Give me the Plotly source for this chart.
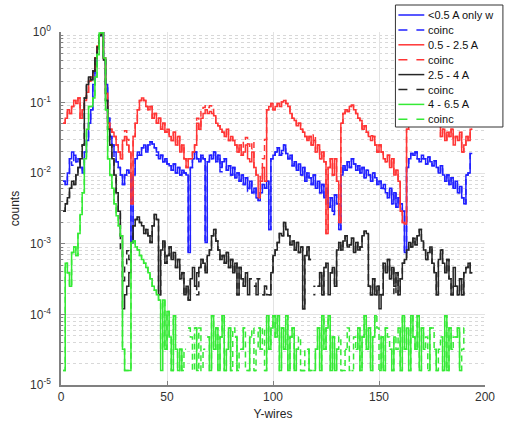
import plotly.graph_objects as go

# ---------------- data ----------------
wires = list(range(1, 195))

blue_lt05 = [
    0.0077, 0.0069, 0.0101, 0.016, 0.02, 0.018, 0.0145, 0.016, 0.012, 0.0101,
    0.02, 0.029, 0.051, 0.079, 0.18, 0.33, 0.58, 0.895, 1.0, 0.43,
    0.18, 0.06, 0.033, 0.025, 0.02, 0.0145, 0.012, 0.0094, 0.0069, 0.0094,
    0.011, 0.0101, 0.00104, 0.0094, 0.016, 0.02, 0.018, 0.023, 0.025, 0.02,
    0.025, 0.028, 0.026, 0.023, 0.02, 0.016, 0.018, 0.0145, 0.016, 0.0135,
    0.0127, 0.011, 0.0135, 0.0101, 0.012, 0.0094, 0.011, 0.0101, 0.0094, 0.00075,
    0.012, 0.016, 0.02, 0.016, 0.0145, 0.018, 0.016, 0.00104, 0.0145, 0.018,
    0.016, 0.02, 0.0145, 0.018, 0.012, 0.0145, 0.016, 0.011, 0.0127, 0.0094,
    0.012, 0.0086, 0.0101, 0.0077, 0.0094, 0.0069, 0.0086, 0.0061, 0.0077, 0.0053,
    0.0061, 0.0045, 0.0041, 0.0053, 0.0069, 0.0061, 0.0077, 0.0016, 0.016, 0.018,
    0.02, 0.023, 0.018, 0.021, 0.025, 0.019, 0.016, 0.018, 0.0127, 0.0145,
    0.011, 0.0135, 0.0094, 0.012, 0.0077, 0.0101, 0.0086, 0.0069, 0.0094, 0.0061,
    0.0077, 0.0053, 0.0069, 0.0045, 0.0061, 0.0033, 0.0045, 0.0029, 0.0049, 0.0037,
    0.0016, 0.0094, 0.0127, 0.011, 0.0145, 0.012, 0.016, 0.0135, 0.011, 0.0127,
    0.0101, 0.012, 0.0086, 0.011, 0.0094, 0.0077, 0.0101, 0.0086, 0.0069, 0.0077,
    0.0061, 0.0069, 0.0053, 0.0045, 0.0061, 0.0037, 0.0053, 0.0033, 0.0045, 0.0037,
    0.0029, 0.00075, 0.012, 0.016, 0.019, 0.018, 0.02, 0.016, 0.0145, 0.018,
    0.016, 0.0135, 0.017, 0.0145, 0.0127, 0.015, 0.012, 0.0101, 0.0127, 0.0094,
    0.0077, 0.0094, 0.0069, 0.0086, 0.0061, 0.0077, 0.0053, 0.0065, 0.0045, 0.0037,
    0.0094, 0.0101, 0.019, 0.019,
]
blue_coinc_diff = {3: 0.0095, 5: 0.013, 25: 0.016, 36: 0.018, 45: 0.018, 75: 0.0105,
                   88: 0.0055, 104: 0.019, 128: 0.0026, 152: 0.006, 170: 0.016}

red_05_25 = [
    0.051, 0.06, 0.079, 0.07, 0.088, 0.107, 0.097, 0.116, 0.06, 0.079,
    0.107, 0.14, 0.2, 0.23, 0.28, 0.43, 0.63, 0.9, 1.0, 0.43,
    0.135, 0.051, 0.042, 0.038, 0.033, 0.025, 0.02, 0.016, 0.029, 0.033,
    0.025, 0.02, 0.0037, 0.033, 0.051, 0.079, 0.107, 0.116, 0.107, 0.088,
    0.079, 0.088, 0.06, 0.07, 0.051, 0.06, 0.042, 0.051, 0.038, 0.042,
    0.033, 0.029, 0.038, 0.025, 0.033, 0.02, 0.025, 0.016, 0.012, 0.016,
    0.016, 0.02, 0.025, 0.051, 0.042, 0.06, 0.07, 0.079, 0.07, 0.075,
    0.07, 0.065, 0.051, 0.047, 0.042, 0.038, 0.033, 0.042, 0.029, 0.033,
    0.029, 0.025, 0.02, 0.025, 0.018, 0.02, 0.025, 0.016, 0.0145, 0.02,
    0.012, 0.0094, 0.0045, 0.0077, 0.012, 0.0077, 0.079, 0.088, 0.097, 0.079,
    0.088, 0.097, 0.088, 0.102, 0.107, 0.097, 0.088, 0.07, 0.06, 0.056,
    0.047, 0.051, 0.042, 0.038, 0.033, 0.029, 0.033, 0.025, 0.029, 0.02,
    0.025, 0.016, 0.02, 0.0145, 0.0014, 0.012, 0.016, 0.0094, 0.016, 0.0077,
    0.002, 0.051, 0.07, 0.079, 0.075, 0.088, 0.092, 0.079, 0.07, 0.06,
    0.056, 0.042, 0.047, 0.038, 0.033, 0.029, 0.033, 0.025, 0.02, 0.025,
    0.02, 0.016, 0.0145, 0.018, 0.012, 0.016, 0.0094, 0.011, 0.0077, 0.0029,
    0.002, 0.0019, 0.042, 0.06, 0.07, 0.079, 0.088, 0.075, 0.079, 0.07,
    0.065, 0.07, 0.06, 0.079, 0.07, 0.06, 0.056, 0.051, 0.033, 0.042,
    0.029, 0.038, 0.033, 0.042, 0.025, 0.033, 0.029, 0.038, 0.02, 0.025,
    0.033, 0.029, 0.042, 0.042,
]
red_coinc_diff = {30: 0.04, 31: 0.03, 64: 0.06, 66: 0.075, 67: 0.085, 68: 0.09, 69: 0.085,
                  70: 0.09, 71: 0.08, 86: 0.028, 87: 0.032, 88: 0.026, 89: 0.022, 90: 0.028,
                  93: 0.009, 95: 0.016, 96: 0.03, 119: 0.035, 146: 0.034, 185: 0.03}

black_25_4 = [
    0.0029, 0.0037, 0.0045, 0.0061, 0.0077, 0.0069, 0.0094, 0.012, 0.016, 0.025,
    0.116, 0.18, 0.23, 0.21, 0.28, 0.43, 0.61, 0.895, 1.0, 0.4,
    0.107, 0.042, 0.025, 0.016, 0.0094, 0.0053, 0.0029, 0.0013, 0.00012, 0.00019,
    0.00025, 0.00039, 0.00104, 0.0018, 0.0022, 0.0024, 0.002, 0.0018, 0.0014, 0.0016,
    0.0013, 0.00104, 0.0018, 0.0026, 0.0022, 0.00019, 0.00082, 0.0011, 0.00053, 0.00068,
    0.0009, 0.0006, 0.00075, 0.00046, 0.0006, 0.00032, 0.00039, 0.00019, 0.00025, 0.00016,
    0.00032, 0.00046, 0.00025, 0.00039, 0.00046, 0.0006, 0.00053, 0.00039, 0.00068, 0.00082,
    0.0013, 0.0016, 0.0011, 0.00082, 0.0006, 0.00068, 0.00053, 0.00075, 0.00046, 0.0006,
    0.00039, 0.00053, 0.00019, 0.00046, 0.00032, 0.00025, 0.00039, 0.00019, 0.00032, 0,
    0.00025, 0.00019, 0.00032, 0, 0.00019, 0.00025, 0, 0.00019, 0.00039, 0.00068,
    0.00082, 0.00104, 0.0014, 0.0013, 0.002, 0.0016, 0.0013, 0.00097, 0.0011, 0.00082,
    0.00104, 0.00075, 0.0009, 0.00012, 0.00068, 0.0009, 0.0006, 0, 0.00019, 0,
    0.00025, 0.00039, 0.00019, 0.00046, 0.00053, 0.00019, 0.00039, 0.00046, 0.00025, 0.00082,
    0.00104, 0.00082, 0.0011, 0.0013, 0.0009, 0.00097, 0.0012, 0.00075, 0.00104, 0.00082,
    0.0009, 0.0013, 0.0015, 0.0014, 0.00025, 0.00019, 0.00032, 0.00019, 0.00025, 0.00012,
    0.00019, 0.00053, 0.00039, 0.0006, 0.00032, 0.00046, 0.00025, 0.00039, 0.00019, 0.00032,
    0.00053, 0.0006, 0.00082, 0.00104, 0.0009, 0.0012, 0.00097, 0.0013, 0.0016, 0.0011,
    0.00082, 0.0006, 0.00075, 0.0009, 0.00053, 0.00039, 0.00019, 0.0006, 0.00082, 0.00053,
    0.00039, 0.0006, 0.00032, 0.00019, 0.00046, 0.00025, 0.00019, 0.00032, 0.00019, 0.00039,
    0.00046, 0.00053, 0.00039, 0.00039,
]
black_coinc_diff = {28: 0.0008, 29: 0.0003, 30: 0.0005, 31: 0.0008, 32: 0.0006, 62: 0,
                    64: 0.00019, 88: 0, 92: 0.00032, 97: 0.00019, 119: 0.00025, 126: 0,
                    150: 0.00019, 157: 0.00019, 185: 0.00025}

green_4_65 = [
    1.6e-5, 5.3e-4, 3.9e-4, 2.5e-4, 7.5e-4, 9e-4, 6.8e-4, 1.4e-3, 2.6e-3, 5.3e-3,
    0.016, 0.042, 0.088, 0.088, 0.116, 0.23, 0.48, 0.97, 1.0, 0.43,
    0.079, 0.016, 0.0094, 0.0061, 0.0037, 0.0025, 0.0018, 0.0013, 3.2e-5, 1.6e-5,
    1.6e-5, 1.6e-5, 1.04e-3, 1.1e-3, 9e-4, 8.2e-4, 6.8e-4, 6e-4, 5.3e-4, 4.6e-4,
    3.9e-4, 3.2e-4, 2.5e-4, 2.2e-4, 1.9e-4, 1.6e-4, 1.6e-5, 1.6e-4, 3.2e-5, 1.1e-4,
    4.8e-5, 1.6e-5, 9.6e-5, 3.2e-5, 1.6e-5, 3.2e-5, 1.6e-5, 0, 0, 6.4e-5,
    0, 0, 6.4e-5, 1.6e-5, 0, 0, 3.2e-5, 0, 4.8e-5, 1.6e-5,
    9.6e-5, 3.2e-5, 6.4e-5, 1.6e-5, 4.8e-5, 9.6e-5, 1.6e-5, 3.2e-5, 6.4e-5, 1.6e-5,
    0, 4.8e-5, 1.6e-5, 0, 3.2e-5, 6.4e-5, 0, 1.6e-5, 4.8e-5, 0,
    1.6e-5, 0, 6.4e-5, 3.2e-5, 0, 1.6e-5, 9.6e-5, 3.2e-5, 6.4e-5, 9.6e-5,
    4.8e-5, 9.6e-5, 1.6e-5, 6.4e-5, 3.2e-5, 9.6e-5, 1.6e-5, 4.8e-5, 6.4e-5, 1.6e-5,
    3.2e-5, 0, 1.6e-5, 1.6e-5, 0, 3.2e-5, 1.6e-5, 0, 1.6e-5, 3.2e-5,
    6.4e-5, 1.6e-5, 9.6e-5, 3.2e-5, 6.4e-5, 9.6e-5, 1.6e-5, 4.8e-5, 1.6e-5, 3.2e-5,
    0, 1.6e-5, 0, 3.2e-5, 0, 0, 1.6e-5, 0, 3.2e-5, 6.4e-5,
    1.6e-5, 4.8e-5, 9.6e-5, 3.2e-5, 6.4e-5, 1.6e-5, 4.8e-5, 9.6e-5, 0, 1.6e-5,
    4.8e-5, 1.6e-5, 6.4e-5, 0, 3.2e-5, 1.6e-5, 4.8e-5, 0, 6.4e-5, 1.6e-5,
    9.6e-5, 3.2e-5, 6.4e-5, 1.6e-5, 9.6e-5, 4.8e-5, 3.2e-5, 9.6e-5, 1.6e-5, 6.4e-5,
    3.2e-5, 0, 1.6e-5, 6.4e-5, 0, 3.2e-5, 1.6e-5, 0, 4.8e-5, 1.6e-5,
    9.6e-5, 1.6e-5, 6.4e-5, 3.2e-5, 0, 4.8e-5, 6.4e-5, 1.6e-5, 0, 0,
    0, 0, 0, 0,
]
green_coinc_diff = {47: 3.2e-5, 58: 3.2e-5, 61: 4.8e-5, 62: 1.6e-5, 65: 6.4e-5, 66: 1.6e-5,
                    81: 6.4e-5, 84: 3.2e-5, 87: 1.6e-5, 90: 6.4e-5, 92: 3.2e-5, 95: 6.4e-5,
                    112: 4.8e-5, 115: 3.2e-5, 118: 1.6e-5, 131: 4.8e-5, 133: 1.6e-5,
                    135: 6.4e-5, 136: 1.6e-5, 138: 4.8e-5, 149: 6.4e-5, 154: 4.8e-5,
                    158: 3.2e-5, 172: 4.8e-5, 175: 6.4e-5, 178: 3.2e-5, 185: 4.8e-5,
                    189: 3.2e-5, 190: 6.4e-5}

legend_labels = ["&lt;0.5 A only w", "coinc", "0.5 - 2.5 A", "coinc",
                 "2.5 - 4 A", "coinc", "4 - 6.5 A", "coinc"]
y_tick_vals = [1e-5, 1e-4, 1e-3, 1e-2, 1e-1, 1]
y_tick_text = ["10<sup>-5</sup>", "10<sup>-4</sup>", "10<sup>-3</sup>",
               "10<sup>-2</sup>", "10<sup>-1</sup>", "10<sup>0</sup>"]
x_tick_vals = [0, 50, 100, 150, 200]


def with_diff(base, diff):
    out = list(base)
    for k, v in diff.items():
        out[k - 1] = v
    return out


def stairs(x, y):
    """MATLAB-like stairs; zero bins break the line (log axis)."""
    xs, ys = [], []
    n = len(y)
    for i in range(n):
        if y[i] > 0:
            xn = x[i + 1] if i + 1 < n else x[i]
            xs += [x[i], xn]
            ys += [y[i], y[i]]
            if i + 1 < n and y[i + 1] <= 0:
                xs.append(None)
                ys.append(None)
    return xs, ys


BLUE, RED, BLACK, GREEN = "#2020ff", "#ff3535", "#262626", "#35ea35"

series = [
    (blue_lt05, BLUE, "solid"),
    (with_diff(blue_lt05, blue_coinc_diff), BLUE, "6px,4px"),
    (red_05_25, RED, "solid"),
    (with_diff(red_05_25, red_coinc_diff), RED, "6px,4px"),
    (black_25_4, BLACK, "solid"),
    (with_diff(black_25_4, black_coinc_diff), BLACK, "6px,4px"),
    (green_4_65, GREEN, "solid"),
    (with_diff(green_4_65, green_coinc_diff), GREEN, "6px,4px"),
]

fig = go.Figure()
for (vals, col, dash), name in zip(series, legend_labels):
    xs, ys = stairs(wires, vals)
    fig.add_trace(go.Scatter(x=xs, y=ys, mode="lines", name=name, showlegend=False,
                             line=dict(color=col, width=1.5, dash=dash),
                             connectgaps=False, hoverinfo="skip"))

# plot-area geometry (pixels) for the legend box
L, R, T, B = 61, 487, 32, 385
W, H = 507, 432


def pxx(p):
    return (p - L) / (R - L)


def pxy(p):
    return (B - p) / (B - T)


shapes = [dict(type="rect", xref="paper", yref="paper", x0=pxx(397), x1=pxx(505),
               y0=pxy(127), y1=pxy(5), line=dict(color="#333333", width=1),
               fillcolor="white", layer="above")]
annotations = []
for i, ((vals, col, dash), name) in enumerate(zip(series, legend_labels)):
    yy = pxy(15 + 14.9 * i)
    shapes.append(dict(type="line", xref="paper", yref="paper", x0=pxx(400), x1=pxx(426),
                       y0=yy, y1=yy, line=dict(color=col, width=1.5,
                                               dash="dash" if dash != "solid" else "solid"),
                       layer="above"))
    annotations.append(dict(xref="paper", yref="paper", x=pxx(428), y=yy, text=name,
                            showarrow=False, xanchor="left", yanchor="middle",
                            font=dict(size=11, color="#111111")))

minor_vals = [m * 10.0 ** e for e in range(-5, 0) for m in range(2, 10)]

fig.update_layout(
    width=W, height=H,
    margin=dict(l=L, r=W - R, t=T, b=H - B),
    paper_bgcolor="white", plot_bgcolor="white",
    font=dict(family="Liberation Sans, Arial, sans-serif", color="#262626", size=12),
    shapes=shapes, annotations=annotations,
    xaxis=dict(range=[0, 200], tickvals=x_tick_vals, showgrid=True, gridcolor="#e3e3e3",
               zeroline=False, showline=True, linecolor="#808080", linewidth=1.5,
               ticks="inside", ticklen=4, tickcolor="#808080",
               tickfont=dict(size=12, color="#333333"),
               title=dict(text="Y-wires", font=dict(size=12, color="#262626"), standoff=6)),
    yaxis=dict(type="log", range=[-5, 0], tickvals=y_tick_vals, ticktext=y_tick_text,
               showgrid=True, gridcolor="#e3e3e3", zeroline=False, showline=True,
               linecolor="#808080", linewidth=1.5, ticks="inside", ticklen=4,
               tickcolor="#808080", tickfont=dict(size=12, color="#333333"),
               ticklabelstandoff=6,
               minor=dict(tickvals=minor_vals, ticks="inside", ticklen=2,
                          tickcolor="#808080", showgrid=True, gridcolor="#d8d8d8",
                          griddash="dot", gridwidth=1),
               title=dict(text="counts", font=dict(size=12, color="#262626"), standoff=8)),
)

fig.write_html("out.html")
